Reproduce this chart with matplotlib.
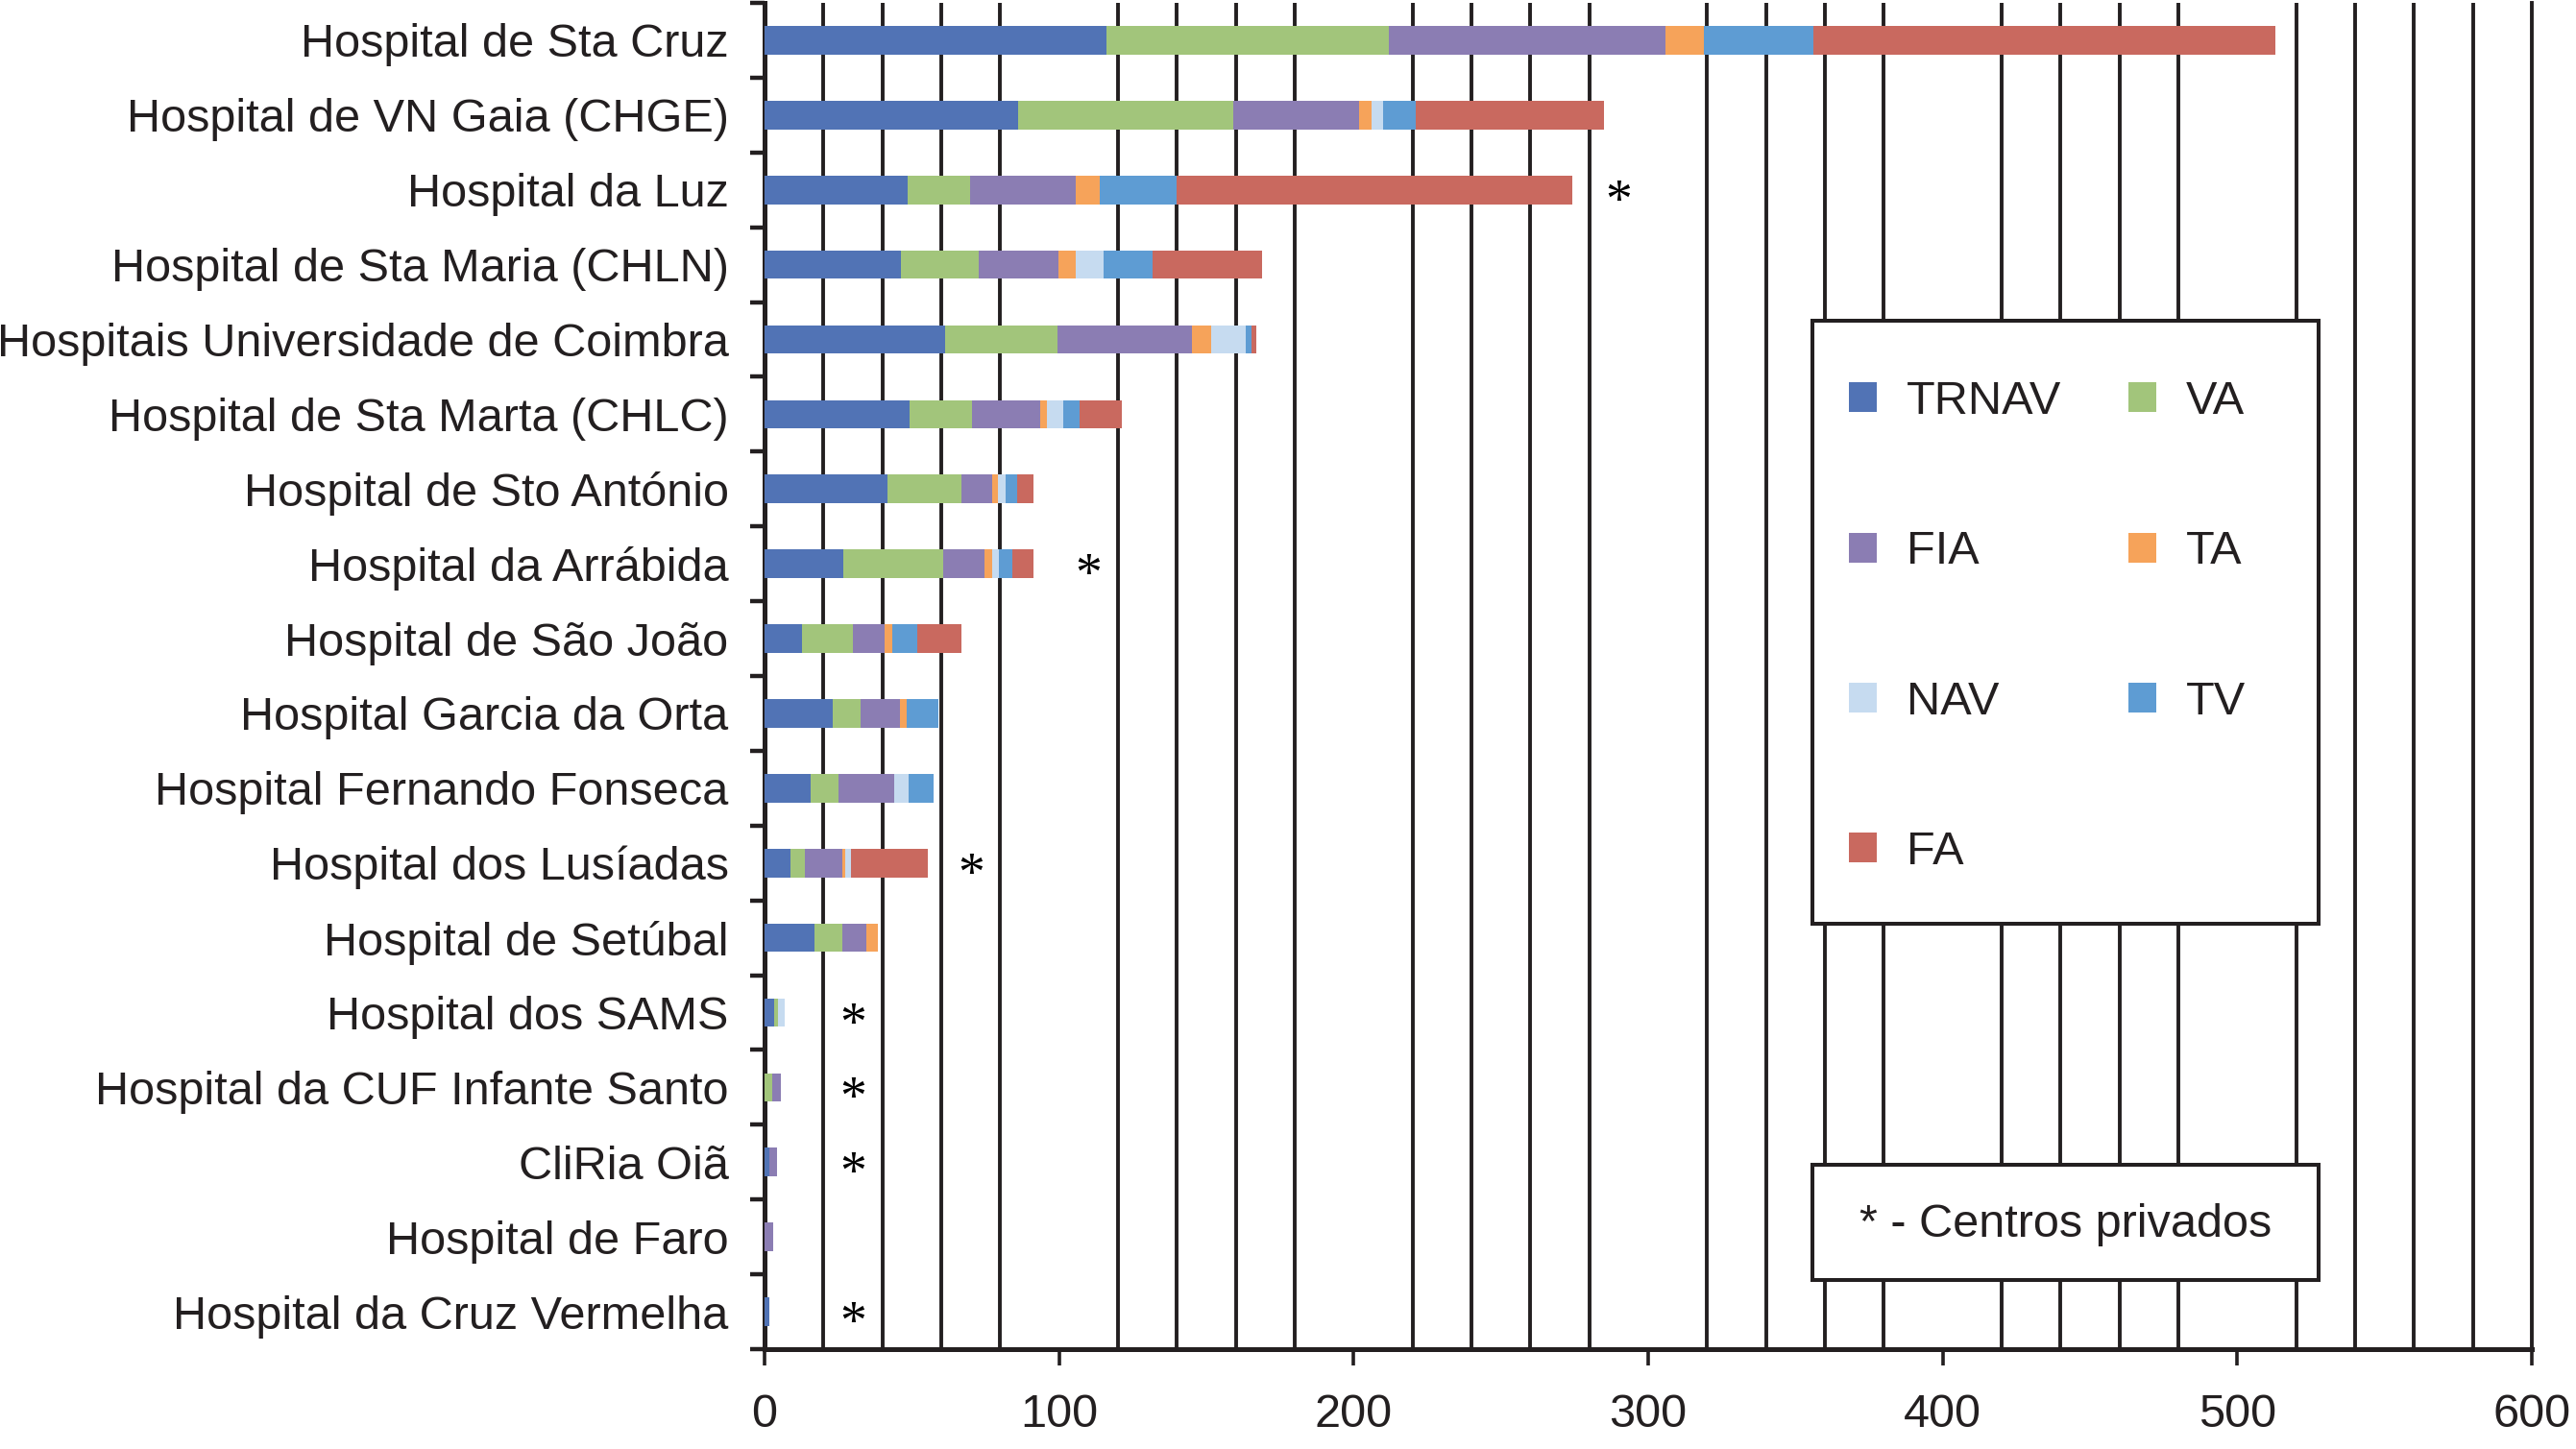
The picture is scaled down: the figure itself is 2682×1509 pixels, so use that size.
import matplotlib
matplotlib.use("Agg")
import matplotlib.pyplot as plt
from matplotlib.patches import Patch, Rectangle
import numpy as np

plt.rcParams['font.family'] = ['Liberation Sans', 'DejaVu Sans']

hospitals = [
    "Hospital de Sta Cruz",
    "Hospital de VN Gaia (CHGE)",
    "Hospital da Luz",
    "Hospital de Sta Maria (CHLN)",
    "Hospitais Universidade de Coimbra",
    "Hospital de Sta Marta (CHLC)",
    "Hospital de Sto António",
    "Hospital da Arrábida",
    "Hospital de São João",
    "Hospital Garcia da Orta",
    "Hospital Fernando Fonseca",
    "Hospital dos Lusíadas",
    "Hospital de Setúbal",
    "Hospital dos SAMS",
    "Hospital da CUF Infante Santo",
    "CliRia Oiã",
    "Hospital de Faro",
    "Hospital da Cruz Vermelha",
]

TRNAV = [116, 86, 48.5, 46.3, 61.2, 49.3, 41.9, 26.9, 12.6, 23.0, 15.5, 8.7, 16.8, 3.1, 0, 1.7, 0, 1.5]
VA    = [96, 73, 21.2, 26.5, 38.4, 21.1, 24.8, 33.9, 17.3, 9.5, 9.5, 4.9, 9.5, 1.4, 2.6, 0, 0, 0]
FIA   = [94, 43, 35.9, 27.0, 45.4, 23.2, 10.7, 14.0, 11.0, 13.6, 18.9, 12.7, 8.4, 0, 2.9, 2.4, 2.8, 0]
TA    = [13, 4, 8.3, 5.8, 6.7, 2.3, 2.0, 2.5, 2.6, 2.2, 0, 1.2, 3.8, 0, 0, 0, 0, 0]
NAV   = [0, 4, 0, 9.5, 11.6, 5.4, 2.5, 2.4, 0, 0, 4.9, 2.0, 0, 2.4, 0, 0, 0, 0]
TV    = [37, 11, 25.9, 16.6, 2.1, 5.7, 3.7, 4.3, 8.5, 10.8, 8.7, 0, 0, 0, 0, 0, 0, 0]
FA    = [157, 64, 134.5, 37.2, 1.6, 14.4, 5.7, 7.3, 14.9, 0, 0, 26.0, 0, 0, 0, 0, 0, 0]

series_names = ["TRNAV", "VA", "FIA", "TA", "NAV", "TV", "FA"]
series_values = [TRNAV, VA, FIA, TA, NAV, TV, FA]
series_colors = ["#5173B5", "#A2C57B", "#8B7DB3", "#F6A35A", "#C6DBF0", "#5E9CD3", "#C9695F"]

# private centres marked with '*'
private_hospitals = ["Hospital da Luz", "Hospital da Arrábida", "Hospital dos Lusíadas",
                     "Hospital dos SAMS", "Hospital da CUF Infante Santo", "CliRia Oiã",
                     "Hospital da Cruz Vermelha"]
private_marker_x = [290, 110, 70, 30, 30, 30, 30]

xticks = [0, 100, 200, 300, 400, 500, 600]

W, H = 2682, 1509
fig = plt.figure(figsize=(W / 100, H / 100), dpi=100)
ax = fig.add_axes([796 / W, 1 - 1405 / H, (2636 - 796) / W, (1405 - 3) / H])

ink = "#231F20"
y = np.arange(len(hospitals))
left = np.zeros(len(hospitals))
for name, vals, col in zip(series_names, series_values, series_colors):
    v = np.array(vals, dtype=float)
    ax.barh(y, v, left=left, height=0.38, color=col, label=name, zorder=3, linewidth=0)
    left += v

for h, xs in zip(private_hospitals, private_marker_x):
    yi = hospitals.index(h)
    ax.text(xs, yi + 0.36, "*", fontsize=40, family="Liberation Serif", color="black",
            ha="center", va="baseline", zorder=4)

ax.set_xlim(0, 600)
ax.set_ylim(len(hospitals) - 0.5, -0.5)
ax.set_xticks(xticks)
ax.set_xticklabels([str(t) for t in xticks], fontsize=35, color=ink)
ax.set_xticks(np.arange(20, 601, 20), minor=True)
ax.grid(True, which="minor", axis="x", color=ink, linewidth=2.8, zorder=1)
ax.grid(False, which="major")
ax.tick_params(axis="x", which="major", direction="out", length=12, width=2.6, color=ink, pad=21)
ax.tick_params(axis="x", which="minor", length=0)

ax.set_yticks(y)
ax.set_yticklabels(hospitals, fontsize=35, color=ink)
ax.set_yticks(np.arange(-0.5, len(hospitals), 1.0), minor=True)
ax.tick_params(axis="y", which="major", length=0, pad=27)
ax.tick_params(axis="y", which="minor", direction="out", length=11, width=3.2, color=ink)

ax.spines["top"].set_visible(False)
ax.spines["right"].set_linewidth(2.8)
ax.spines["right"].set_color(ink)
for s in ["left", "bottom"]:
    ax.spines[s].set_linewidth(3.6)
    ax.spines[s].set_color(ink)

# legend box
fig.patches.append(Rectangle((1887 / W, 1 - 962 / H), (2414 - 1887) / W, (962 - 334) / H,
                             transform=fig.transFigure, facecolor="white", edgecolor=ink,
                             linewidth=2.9, zorder=5))
handles = [Patch(facecolor=c, edgecolor="none", label=n) for n, c in zip(series_names, series_colors)]
# order: row-wise TRNAV VA / FIA TA / NAV TV / FA
order = [0, 2, 4, 6, 1, 3, 5]
leg = fig.legend([handles[i] for i in order], [series_names[i] for i in order],
                 ncol=2, loc="upper left", bbox_to_anchor=(1925 / W, 1 - 396 / H),
                 frameon=False, fontsize=35, borderpad=0, borderaxespad=0,
                 handlelength=0.6, handleheight=0.6, handletextpad=0.64,
                 labelspacing=2.29, columnspacing=1.42, labelcolor=ink)
leg.set_zorder(6)

# private centres note box
fig.patches.append(Rectangle((1887 / W, 1 - 1333 / H), (2414 - 1887) / W, (1333 - 1213) / H,
                             transform=fig.transFigure, facecolor="white", edgecolor=ink,
                             linewidth=2.9, zorder=5))
fig.text(2151 / W, 1 - 1275 / H, "* - Centros privados", fontsize=35, color=ink,
         ha="center", va="center", zorder=6)

fig.savefig("out.png", dpi=100)
